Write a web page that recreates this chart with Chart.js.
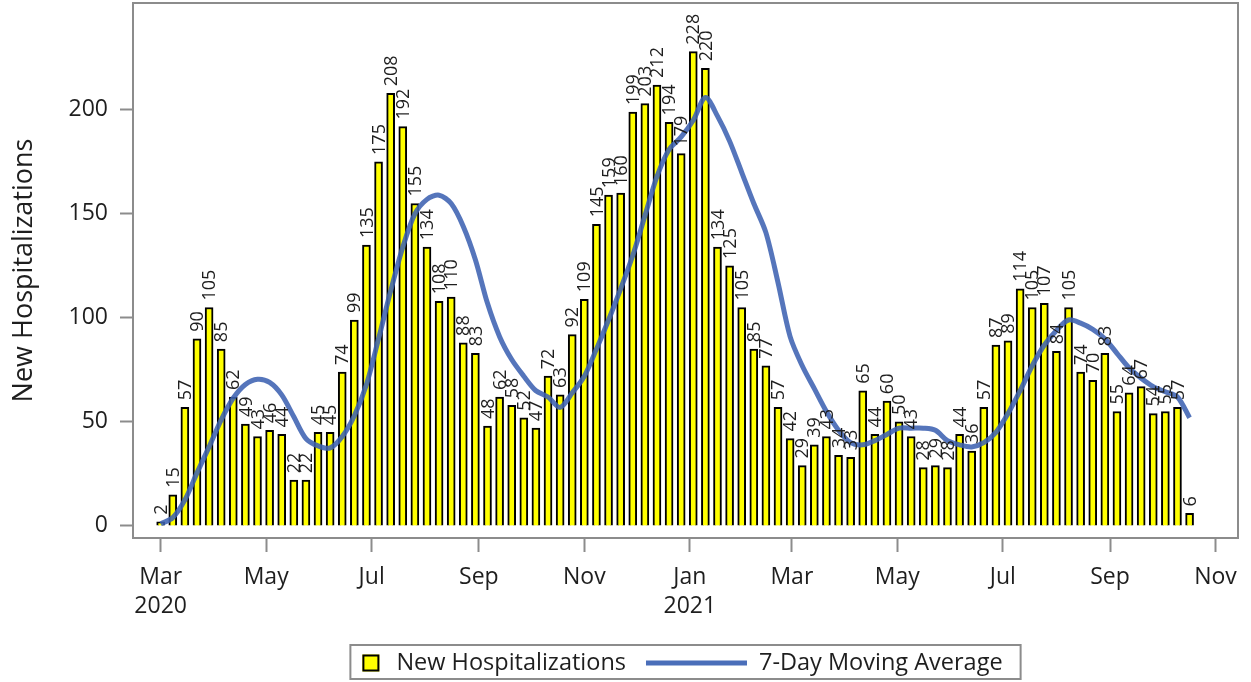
<!DOCTYPE html>
<html><head><meta charset="utf-8">
<script src="https://cdn.jsdelivr.net/npm/chart.js@4/dist/chart.umd.min.js"></script>
<style>html,body{margin:0;padding:0;background:#fff}#wrap{width:1251px;height:682px;position:relative}</style>
</head><body><div id="wrap"><canvas id="c" width="1251" height="682"></canvas></div>
<script>
// ---- data ----
const firstWeek = '2020-03-01';
const hospitalizations = [2,15,57,90,105,85,62,49,43,46,44,22,22,45,45,74,99,135,175,208,192,155,134,108,110,88,83,48,62,58,52,47,72,63,92,109,145,159,160,199,203,212,194,179,228,220,134,125,105,85,77,57,42,29,39,43,34,33,65,44,60,50,43,28,29,28,44,36,57,87,89,114,105,107,84,105,74,70,83,55,64,67,54,55,57,6];
const movingAverage = [1,4,12.5,25.5,38,51,61.5,68,70.5,69,63,52.5,42,38.5,37.5,43,53,68,90,113,134,150,157,159,155,144,128,107,91,80,72,65,62,57,64,72,85,99,114,130,149,168,181,187,195,206,197,185,170,155,141,117,91,77,66,55,46,40,39,41,44,47,47,47,46,41,39,38,40,45,54,65,77,87,94,99,97.5,94.5,90,83,76,71,67,64.5,62,52];
const tickDates = ['2020-03-01','2020-05-01','2020-07-01','2020-09-01','2020-11-01','2021-01-01','2021-03-01','2021-05-01','2021-07-01','2021-09-01','2021-11-01'];
const tickLabels = [['Mar','2020'],'May','Jul','Sep','Nov',['Jan','2021'],'Mar','May','Jul','Sep','Nov'];
const yTicks = [0,50,100,150,200];
const seriesNames = ['New Hospitalizations','7-Day Moving Average'];
const yTitle = 'New Hospitalizations';

// ---- helpers ----
const DAY = 86400000;
const dayOf = s => Math.round((Date.parse(s) - Date.parse(firstWeek)) / DAY);
const weekDays = hospitalizations.map((_, i) => i * 7);
const tickDays = tickDates.map(dayOf);
const FONT = "'Open Sans', sans-serif";
const GRAY = '#8c8c8c';
const TXT = '#1e1e1e';

const barPts = hospitalizations.map((v, i) => ({x: weekDays[i], y: v}));
const linePts = movingAverage.map((v, i) => ({x: weekDays[i], y: v}));

const decor = {
  id: 'decor',
  afterDatasetsDraw(chart) {
    const ctx = chart.ctx, ca = chart.chartArea;
    const meta = chart.getDatasetMeta(1);
    ctx.save();
    ctx.font = '18px ' + FONT;
    ctx.fillStyle = TXT;
    ctx.textAlign = 'left';
    ctx.textBaseline = 'middle';
    meta.data.forEach((bar, i) => {
      ctx.save();
      ctx.translate(bar.x + 1, bar.y - 7);
      ctx.rotate(-Math.PI / 2);
      ctx.fillText(String(hospitalizations[i]), 0, 0);
      ctx.restore();
    });
    ctx.restore();
    ctx.save();
    ctx.strokeStyle = GRAY;
    ctx.lineWidth = 2;
    ctx.strokeRect(ca.left, ca.top, ca.right - ca.left, ca.bottom - ca.top);
    ctx.restore();
  },
  afterDraw(chart) {
    const ctx = chart.ctx, ca = chart.chartArea;
    ctx.save();
    ctx.font = '23.5px ' + FONT;
    const w1 = ctx.measureText(seriesNames[0]).width;
    const w2 = ctx.measureText(seriesNames[1]).width;
    const padL = 12, sq = 17, g1 = 17, g2 = 20, lineLen = 101, g3 = 12, padR = 18;
    const total = padL + sq + g1 + w1 + g2 + lineLen + g3 + w2 + padR;
    const cx = (ca.left + ca.right) / 2;
    const x0 = cx - total / 2, top = 645, h = 34, cy = top + h / 2 + 1;
    ctx.strokeStyle = GRAY; ctx.lineWidth = 2;
    ctx.strokeRect(x0, top, total, h);
    let x = x0 + padL;
    ctx.fillStyle = '#ffff00';
    ctx.fillRect(x, cy - sq / 2, sq, sq);
    ctx.strokeStyle = '#000'; ctx.lineWidth = 2;
    ctx.strokeRect(x + 1, cy - sq / 2 + 1, sq - 2, sq - 2);
    x += sq + g1;
    ctx.fillStyle = TXT; ctx.textAlign = 'left'; ctx.textBaseline = 'middle';
    ctx.fillText(seriesNames[0], x, cy);
    x += w1 + g2;
    ctx.strokeStyle = 'rgb(74,110,185)'; ctx.lineWidth = 5;
    ctx.beginPath(); ctx.moveTo(x, cy); ctx.lineTo(x + lineLen, cy); ctx.stroke();
    x += lineLen + g3;
    ctx.fillText(seriesNames[1], x, cy);
    ctx.restore();
  }
};

new Chart(document.getElementById('c'), {
  data: {
    datasets: [
      {type: 'line', label: seriesNames[1], data: linePts, borderColor: 'rgba(62,98,178,0.88)', borderWidth: 5,
       pointRadius: 0, tension: 0.3, fill: false, order: 0, borderCapStyle: 'butt'},
      {type: 'bar', label: seriesNames[0], data: barPts, backgroundColor: '#ffff00', borderColor: '#000',
       borderWidth: 2, barThickness: 8, order: 1}
    ]
  },
  options: {
    responsive: false,
    animation: false,
    devicePixelRatio: 1,
    layout: {padding: {top: 3, right: 13, left: 0, bottom: 0}},
    plugins: {legend: {display: false}, tooltip: {enabled: false}},
    scales: {
      x: {
        type: 'linear', min: -16, max: 623, offset: false,
        afterBuildTicks(s) { s.ticks = tickDays.map(v => ({value: v})); },
        afterFit(s) { s.height = 144; s.paddingLeft = 0; s.paddingRight = 0; },
        grid: {offset: false, drawOnChartArea: false, drawTicks: true, tickLength: 14, tickColor: GRAY, tickWidth: 2},
        border: {display: false},
        ticks: {
          autoSkip: false, maxRotation: 0, padding: 11, color: TXT,
          font: {family: FONT, size: 23, lineHeight: 1.25},
          callback(v) { const k = tickDays.indexOf(v); return k >= 0 ? tickLabels[k] : ''; }
        }
      },
      y: {
        type: 'linear', min: -5.8, max: 251.4,
        afterBuildTicks(s) { s.ticks = yTicks.map(v => ({value: v})); },
        afterFit(s) { s.width = 133; s.paddingTop = 0; s.paddingBottom = 0; },
        grid: {offset: false, drawOnChartArea: false, drawTicks: true, tickLength: 13, tickColor: GRAY, tickWidth: 2},
        border: {display: false},
        ticks: {padding: 12, color: TXT, font: {family: FONT, size: 23}},
        title: {display: true, text: yTitle, color: TXT, font: {family: FONT, size: 27}, padding: {top: 8, bottom: 0}}
      }
    }
  },
  plugins: [decor]
});
</script>
</body></html>
